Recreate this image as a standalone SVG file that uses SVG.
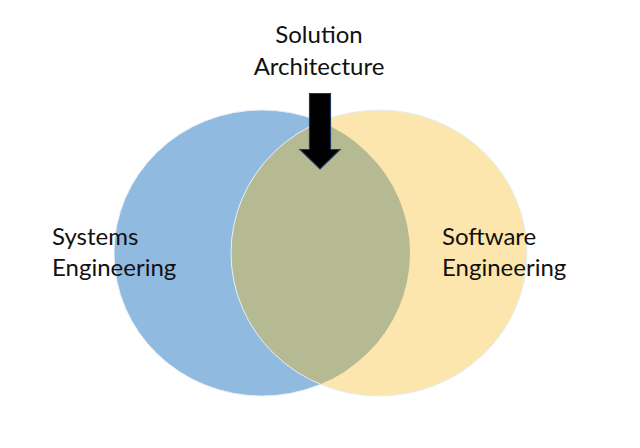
<svg xmlns="http://www.w3.org/2000/svg" width="640" height="448" viewBox="0 0 640 448">
<style>
.lbl{font-family:Lato,"Open Sans","Liberation Sans",sans-serif;font-size:24px;fill:#111}
</style>
<defs>
<clipPath id="blueClip"><ellipse cx="262" cy="253" rx="148" ry="143"/></clipPath>
</defs>
<rect width="640" height="448" fill="#fff"/>
<g id="systems">
<ellipse cx="262" cy="253" rx="148" ry="143" fill="#91BAE1" stroke="#E3EEF8" stroke-width="1"/>
</g>
<g id="software">
<ellipse cx="379" cy="253" rx="148" ry="143" fill="#FDE6AD"/>
<ellipse cx="379" cy="253" rx="148" ry="143" fill="#B5BA93" clip-path="url(#blueClip)"/>
<ellipse cx="379" cy="253" rx="148" ry="143" fill="none" stroke="#E3EEF8" stroke-width="1"/>
</g>
<g id="labels">
<text class="lbl" x="52" y="245">Systems</text>
<text class="lbl" x="52" y="276">Engineering</text>
<text class="lbl" x="442" y="245">Software</text>
<text class="lbl" x="442" y="276">Engineering</text>
<text class="lbl" x="319" y="43" text-anchor="middle">Solution</text>
<text class="lbl" x="319" y="75" text-anchor="middle">Architecture</text>
</g>
<g id="connectors">
<path d="M309.5,93.5 H330.5 V149.5 H340 L320,169 L300,149.5 H309.5 Z" fill="#000" stroke="#1F3864" stroke-width="1.2" stroke-linejoin="miter"/>
</g>
</svg>
